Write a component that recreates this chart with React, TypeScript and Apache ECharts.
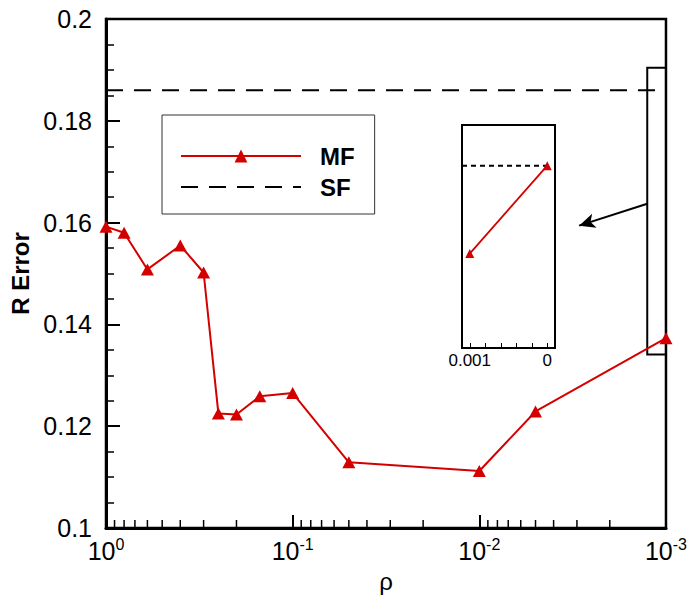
import React, { useEffect, useRef } from 'react';
import * as echarts from 'echarts';

// ---- data ----
const rho = [1, 0.8, 0.6, 0.4, 0.3, 0.25, 0.2, 0.15, 0.1, 0.05, 0.01, 0.005, 0.001];
const mfError = [0.1592, 0.158, 0.1508, 0.1555, 0.1502, 0.1225, 0.1223, 0.1259, 0.1265, 0.1129, 0.1112, 0.1229, 0.1373];
const sfRho = [1, 0.001];
const sfError = [0.186, 0.186];
const xMinorTicks = [
  0.9, 0.8, 0.7, 0.6, 0.5, 0.4, 0.3, 0.2,
  0.09, 0.08, 0.07, 0.06, 0.05, 0.04, 0.03, 0.02,
  0.009, 0.008, 0.007, 0.006, 0.005, 0.004, 0.003, 0.002,
];
const insetRho = [0.001, 0];
const insetMfError = [0.1373, 0.186];
const insetSfRho = [0.0011, 0];
const insetSfError = [0.186, 0.186];
const insetTicks = [0, 0.0002, 0.0004, 0.0006, 0.0008, 0.001];
const insetLabels = [0, 0.001];
const zoomBoxRho = [0.00126, 0.001];
const zoomBoxError = [0.1904, 0.1341];
const arrowRho = [0.00126, 0.00292];
const arrowError = [0.1637, 0.1594];

const FONT = '"Liberation Sans", Arial, sans-serif';
const RED = '#d40000';

export default function App() {
  const ref = useRef<HTMLDivElement>(null);
  useEffect(() => {
    if (!ref.current) return;
    const chart = echarts.init(ref.current, undefined, { renderer: 'svg' });
    const option: any = {
      animation: false,
      backgroundColor: '#fff',
      textStyle: { fontFamily: FONT },
      grid: [
        { left: 106, top: 19, width: 561, height: 510, show: true, borderColor: '#000', borderWidth: 2.5, backgroundColor: 'transparent' },
        { left: 462, top: 125, width: 93, height: 223, show: true, borderColor: '#000', borderWidth: 2, backgroundColor: '#fff' },
      ],
      xAxis: [
        {
          type: 'log', gridIndex: 0, logBase: 10, min: 0.001, max: 1, inverse: true,
          name: 'ρ', nameLocation: 'middle', nameGap: 41,
          nameTextStyle: { fontSize: 24, color: '#000', fontFamily: FONT },
          axisLine: { lineStyle: { color: '#000', width: 3 } },
          axisTick: { inside: true, length: 13, lineStyle: { color: '#000', width: 2 } },
          axisLabel: {
            margin: 8,
            formatter: (v: number) => {
              const e = Math.round(Math.log10(v));
              return '{b|10}{s|' + e + '}';
            },
            rich: {
              b: { fontSize: 25, color: '#000', fontFamily: FONT, lineHeight: 30 },
              s: { fontSize: 16, color: '#000', fontFamily: FONT, verticalAlign: 'top' },
            },
          },
          splitLine: { show: false },
        },
        {
          type: 'value', gridIndex: 1, min: -0.0001, max: 0.0011, inverse: true,
          axisLine: { lineStyle: { color: '#000', width: 2 } },
          axisTick: { inside: true, length: 5, customValues: insetTicks, lineStyle: { color: '#000', width: 1 } },
          axisLabel: {
            customValues: insetLabels, fontSize: 17, color: '#000', margin: 4, fontFamily: FONT,
            formatter: (v: number) => (Math.abs(v) < 1e-9 ? '0' : '0.001'),
          },
          splitLine: { show: false },
        },
      ],
      yAxis: [
        {
          type: 'value', gridIndex: 0, min: 0.1, max: 0.2, interval: 0.02,
          name: 'R Error', nameLocation: 'middle', nameGap: 74,
          nameTextStyle: { fontSize: 24, fontWeight: 'bold', color: '#000', fontFamily: FONT },
          axisLine: { show: true, lineStyle: { color: '#000', width: 3 } },
          axisTick: { inside: true, length: 14, lineStyle: { color: '#000', width: 2 } },
          minorTick: { show: true, splitNumber: 4, length: 8, lineStyle: { color: '#000', width: 1.5 } },
          axisLabel: { fontSize: 25, color: '#000', margin: 14, fontFamily: FONT, formatter: (v: number) => String(+v.toFixed(2)) },
          splitLine: { show: false },
        },
        { type: 'value', gridIndex: 1, min: 0.085, max: 0.2085, show: false },
      ],
      legend: {
        data: ['MF', 'SF'], orient: 'vertical', left: 162, top: 115,
        padding: [29, 20, 15, 18], itemWidth: 120, itemHeight: 16, itemGap: 7,
        borderColor: '#333', borderWidth: 1, backgroundColor: '#fff', selectedMode: false,
        textStyle: { fontSize: 24, fontWeight: 'bold', color: '#000', fontFamily: FONT, padding: [0, 0, 0, 14], lineHeight: 24 },
      },
      series: [
        {
          name: 'MF', type: 'line', xAxisIndex: 0, yAxisIndex: 0,
          data: rho.map((r, i) => [r, mfError[i]]),
          symbol: 'triangle', symbolSize: [13, 12], clip: false,
          lineStyle: { color: RED, width: 2 }, itemStyle: { color: RED }, z: 4,
          markArea: {
            silent: true, label: { show: false },
            itemStyle: { color: 'rgba(0,0,0,0)', borderColor: '#000', borderWidth: 2 },
            data: [[{ coord: [zoomBoxRho[0], zoomBoxError[0]] }, { coord: [zoomBoxRho[1], zoomBoxError[1]] }]],
          },
        },
        {
          name: 'SF', type: 'line', xAxisIndex: 0, yAxisIndex: 0,
          data: sfRho.map((r, i) => [r, sfError[i]]),
          symbol: 'none', lineStyle: { color: '#000', width: 2, type: [17, 11] },
          itemStyle: { color: 'rgba(0,0,0,0)', borderWidth: 0 },
          markLine: {
            silent: true, symbol: ['none', 'arrow'], symbolSize: [11, 16], label: { show: false },
            lineStyle: { color: '#000', width: 2, type: 'solid' },
            data: [[{ coord: [arrowRho[0], arrowError[0]] }, { coord: [arrowRho[1], arrowError[1]] }]],
          },
        },
        {
          type: 'custom', xAxisIndex: 0, yAxisIndex: 0, silent: true, clip: false,
          data: xMinorTicks.map((v) => [v, 0.1]),
          renderItem: (params: any, api: any) => {
            const p = api.coord([api.value(0), api.value(1)]);
            return { type: 'line', shape: { x1: p[0], y1: p[1], x2: p[0], y2: p[1] - 8 }, style: { stroke: '#000', lineWidth: 1.5 } };
          },
        },
        {
          name: 'MF inset', type: 'line', xAxisIndex: 1, yAxisIndex: 1,
          data: insetRho.map((r, i) => [r, insetMfError[i]]),
          symbol: 'triangle', symbolSize: 9, clip: false,
          lineStyle: { color: RED, width: 1.8 }, itemStyle: { color: RED }, z: 4,
        },
        {
          name: 'SF inset', type: 'line', xAxisIndex: 1, yAxisIndex: 1,
          data: insetSfRho.map((r, i) => [r, insetSfError[i]]),
          symbol: 'none', lineStyle: { color: '#000', width: 2, type: [5, 4] },
        },
      ],
    };
    chart.setOption(option);
    return () => chart.dispose();
  }, []);
  return <div ref={ref} style={{ position: 'absolute', left: 0, top: 0, width: 690, height: 598 }} />;
}
